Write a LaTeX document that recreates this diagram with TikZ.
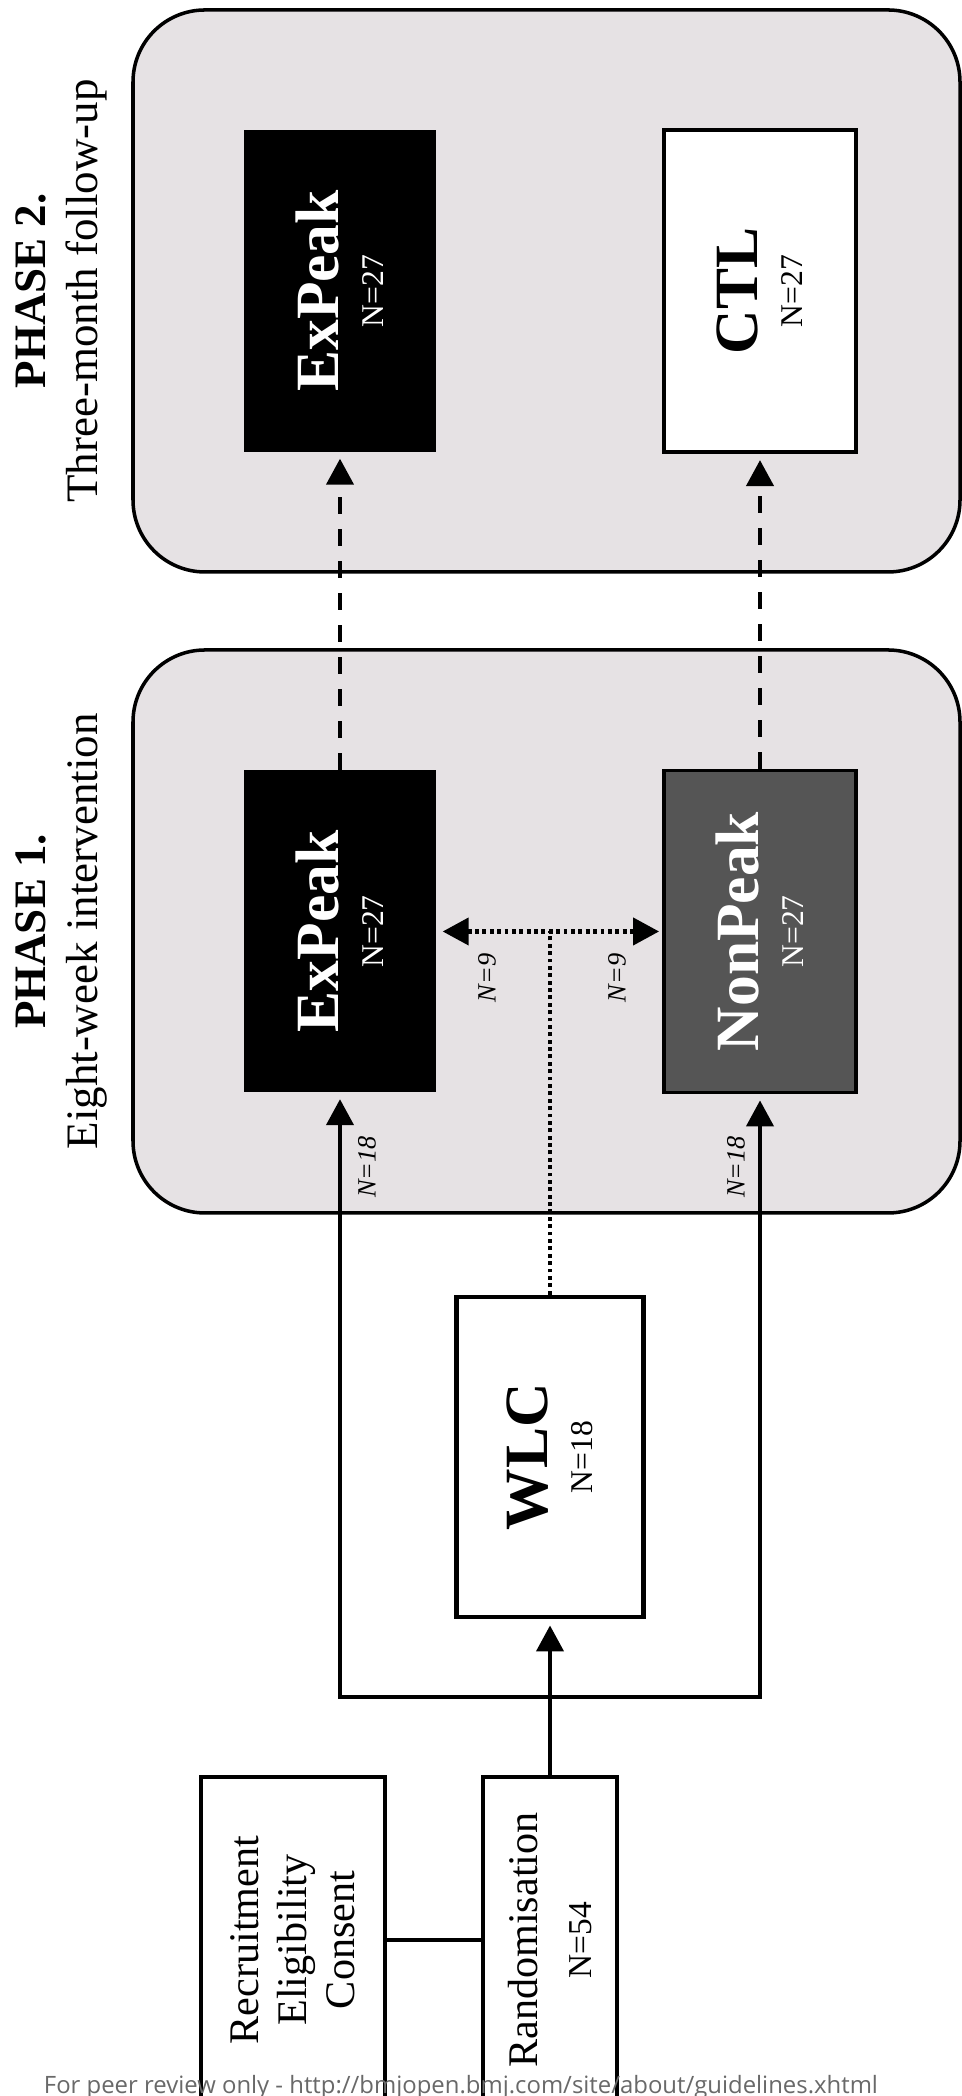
\documentclass[tikz,border=0pt]{standalone}
\usepackage{fontspec}
\setmainfont{Liberation Serif}
\newfontfamily\footerfont{Open Sans}
\usepackage{xcolor}
\usepackage{tikz}
\usetikzlibrary{arrows.meta,positioning,calc}
\definecolor{phasebg}{RGB}{230,226,228}
\definecolor{nonpeakfill}{RGB}{85,85,85}
\definecolor{footgray}{RGB}{105,105,105}
\newcommand{\armname}[1]{{\fontsize{17.5}{20}\selectfont\bfseries #1}}

\begin{document}
\begin{tikzpicture}[
    phase/.style={draw, line width=1pt, rounded corners=0.72cm, fill=phasebg, minimum width=8.27cm, inner sep=0pt},
    phaselab/.style={rotate=90, align=center, inner sep=0pt, font=\fontsize{12.8}{14.8}\selectfont},
    arm/.style={rotate=90, align=center, minimum width=3.22cm, minimum height=1.92cm, inner sep=0pt, font=\fontsize{9}{12.8}\selectfont},
    dark/.style={arm, fill=black, text=white},
    light/.style={arm, draw, line width=1.2pt, fill=white},
    entry/.style={draw, rotate=90, align=center, line width=1.3pt, fill=white, inner sep=0pt, minimum width=3.26cm, font=\fontsize{12}{13.7}\selectfont},
    nlab/.style={rotate=90, inner sep=0pt, font=\fontsize{7.5}{9}\selectfont\itshape},
    arr/.style={-{Triangle[width=0.27cm,length=0.26cm]}, line width=1.2pt, shorten >=0.06cm},
    dashedarr/.style={arr, dash pattern=on 4.8pt off 4.3pt},
    dottedline/.style={line width=1.2pt, dash pattern=on 1.1pt off 1pt},
    dotarr/.style={dottedline, {Triangle[width=0.27cm,length=0.26cm]}-{Triangle[width=0.27cm,length=0.26cm]}, shorten <=0.06cm, shorten >=0.03cm},
]
    \path[use as bounding box, fill=white] (0,0) rectangle (9.62,20.96);

    % Phases
    \node[phase, minimum height=5.62cm] (ph2) at (5.465,18.05) {};
    \node[phase, minimum height=5.63cm] (ph1) at (5.465,11.645) {};
    \node[phaselab] (ph2lab) at (0.61,18.05) {\textbf{PHASE 2.}\\Three-month follow-up};
    \node[phaselab] (ph1lab) at (0.61,11.645) {\textbf{PHASE 1.}\\Eight-week intervention};

    % Groups
    \node[dark] (expeak2) at (3.40,18.05) {\armname{ExPeak}\\N=27};
    \node[light] (ctl) at (7.60,18.05) {\armname{CTL}\\N=27};
    \node[dark] (expeak1) at (3.40,11.645) {\armname{ExPeak}\\N=27};
    \node[arm, draw, line width=1.1pt, fill=nonpeakfill, text=white] (nonpeak) at (7.60,11.645) {\armname{NonPeak}\\N=27};
    \node[light, minimum width=3.20cm, minimum height=1.87cm, line width=1.4pt] (wlc) at (5.50,6.39) {\armname{WLC}\\N=18};

    % Entry
    \node[entry, minimum height=1.84cm] (recruit) at (2.93,1.56) {Recruitment\\Eligibility\\Consent};
    \node[entry, minimum height=1.34cm] (rand) at (5.50,1.56) {Randomisation\\[1.9pt]{\fontsize{9.5}{11}\selectfont N=54}};

    % Connectors
    \coordinate (fork) at (5.50,3.99);
    \coordinate (meet) at (5.50,11.645);
    \draw[line width=1.2pt] (recruit) -- (rand);
    \draw[arr] (rand) -- (wlc);
    \draw[arr] (fork) -| (expeak1);
    \draw[arr] (fork) -| (nonpeak);
    \draw[dottedline] (wlc) -- (meet);
    \draw[dotarr] (expeak1) -- (nonpeak);
    \draw[dashedarr] (expeak1) -- (expeak2);
    \draw[dashedarr] (nonpeak) -- (ctl);

    % Sizes
    \node[nlab] (n18a) at (3.67,9.29) {N=18};
    \node[nlab] (n18b) at (7.36,9.29) {N=18};
    \node[nlab] (n9a) at (4.87,11.18) {N=9};
    \node[nlab] (n9b) at (6.17,11.18) {N=9};

    % Footer
    \node[font=\footerfont\fontsize{6.8}{8}\selectfont, text=footgray, anchor=base, inner sep=0pt] (footer) at (4.61,0.03) {For peer review only - http://bmjopen.bmj.com/site/about/guidelines.xhtml};
\end{tikzpicture}
\end{document}
